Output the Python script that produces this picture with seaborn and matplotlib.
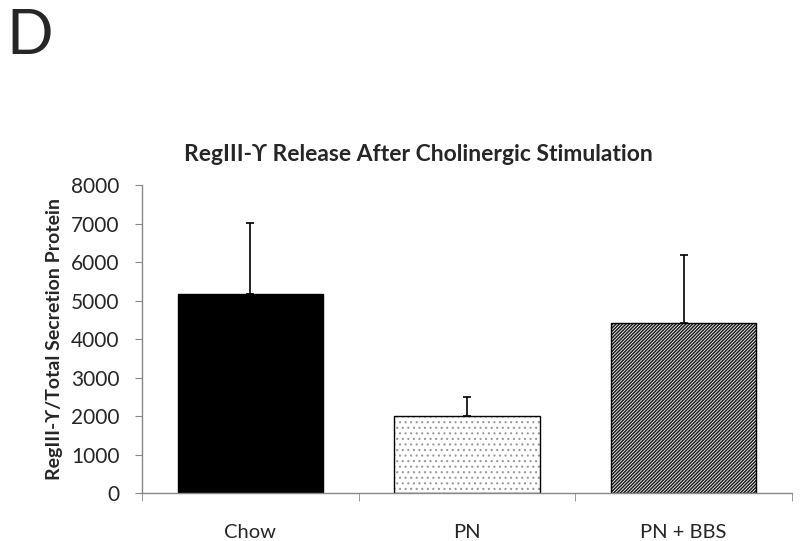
import matplotlib
matplotlib.use('Agg')
import matplotlib.pyplot as plt
import seaborn as sns
import pandas as pd

groups = ['Chow', 'PN', 'PN + BBS']
means = [5170, 2000, 4420]
sem_upper = [1850, 500, 1760]
bar_colors = ['black', 'white', 'white']
bar_hatches = ['', '...', '//////////']

sns.set_style('white')
plt.rcParams['font.family'] = ['Lato', 'DejaVu Sans']
plt.rcParams['hatch.linewidth'] = 0.8

df = pd.DataFrame({'group': groups, 'value': means})

fig = plt.figure(figsize=(8, 5.41), dpi=100)
ax = fig.add_axes([0.1775, 0.0887, 0.8125, 0.5693])

sns.barplot(data=df, x='group', y='value', hue='group', palette=bar_colors,
            width=0.67, edgecolor='black', linewidth=1.0, legend=False, ax=ax)

for patch, h in zip(ax.patches, bar_hatches):
    patch.set_hatch(h)
    if h == '...':
        patch.set_hatch_linewidth(0.8)
        patch._hatch_color = (0.6, 0.6, 0.6, 1.0)
    elif h:
        patch.set_hatch_linewidth(1.1)
        patch._hatch_color = (0.1, 0.1, 0.1, 1.0)

ax.errorbar(range(len(groups)), means, yerr=[[0] * len(groups), sem_upper],
            fmt='none', ecolor='black', elinewidth=1.2, capsize=3, capthick=1.2)

ax.set_ylim(0, 8000)
ax.set_xlim(-0.5, 2.5)
ax.set_yticks(range(0, 8001, 1000))
ax.set_xticks(range(len(groups)))
ax.set_xticklabels(groups)
ax.set_xticks([-0.5, 0.5, 1.5, 2.5], minor=True)
ax.tick_params(axis='x', which='major', length=0, pad=22, labelsize=14.5)
ax.tick_params(axis='x', which='minor', length=6, color='#888888', direction='out', bottom=True)
ax.tick_params(axis='y', length=5, color='#888888', direction='out', left=True, labelsize=15, pad=11)

sns.despine(ax=ax)
for s in ['left', 'bottom']:
    ax.spines[s].set_color('#888888')
    ax.spines[s].set_linewidth(1.0)

ax.set_xlabel('')
ax.set_ylabel('RegIII-ϒ/Total Secretion Protein', fontsize=14, fontweight='bold', labelpad=6)
ax.set_title('RegIII-ϒ Release After Cholinergic Stimulation', fontsize=16.5,
             fontweight='bold', pad=17, x=0.425)

fig.text(0.008, 0.985, 'D', fontsize=44, va='top', ha='left')

fig.savefig('out.png', dpi=100)
